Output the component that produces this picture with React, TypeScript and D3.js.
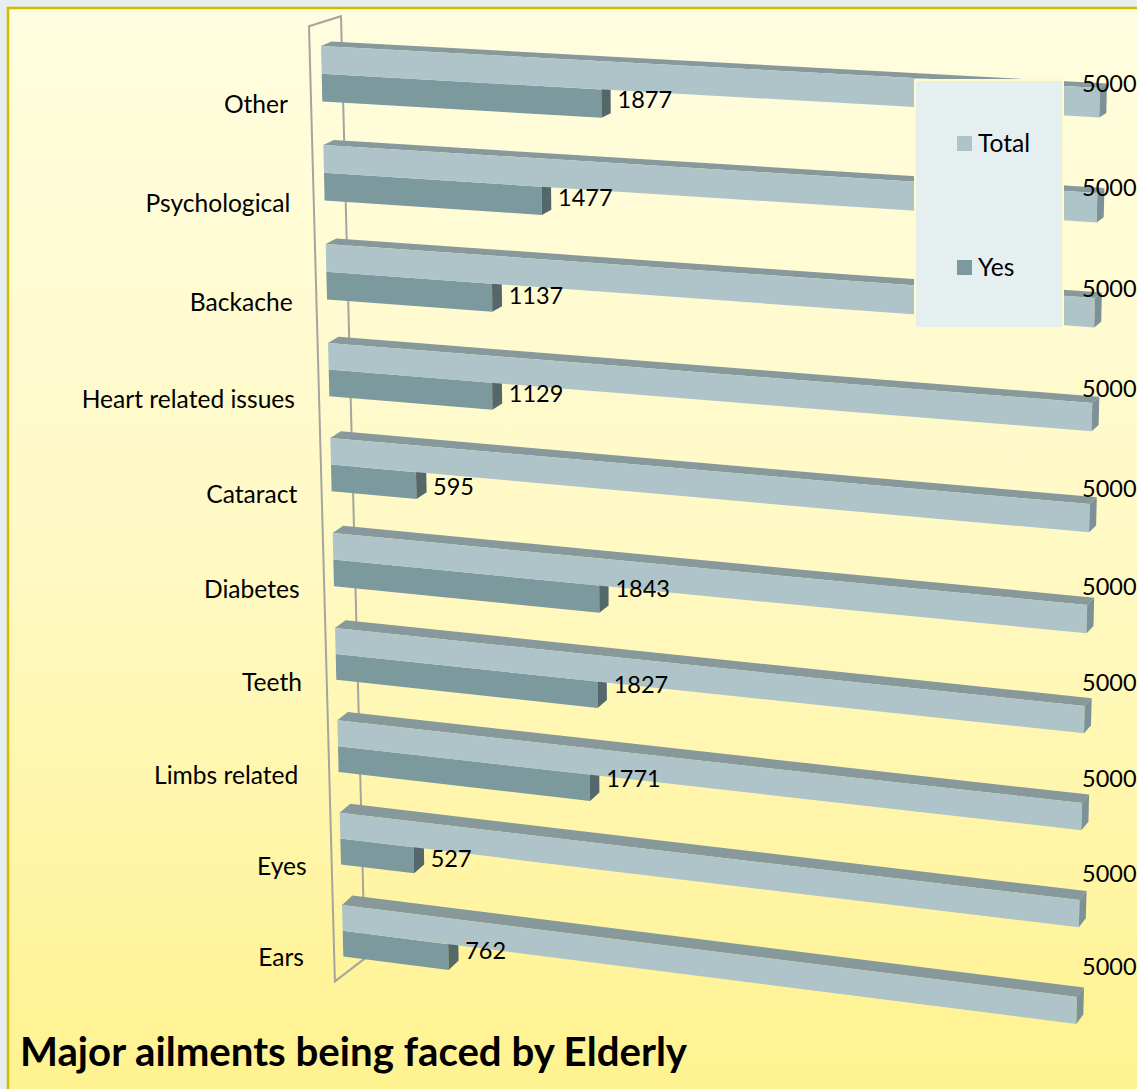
import React from 'react';
import * as d3 from 'd3';

const categories = ['Other', 'Psychological', 'Backache', 'Heart related issues', 'Cataract', 'Diabetes', 'Teeth', 'Limbs related', 'Eyes', 'Ears'];
const yesValues = [1877, 1477, 1137, 1129, 595, 1843, 1827, 1771, 527, 762];
const totalValues = [5000, 5000, 5000, 5000, 5000, 5000, 5000, 5000, 5000, 5000];
const legendNames = ['Total', 'Yes'];
const chartTitle = 'Major ailments being faced by Elderly';

const W = 1137;
const H = 1089;
const FONT = 'Lato, "Open Sans", sans-serif';

// bar thickness in row units
const BAR = 0.28;

// the chart is a fake 3D one, so rows are projected between a left and a right edge
const valueScale = d3.scaleLinear().domain([0, 5000]).range([0, 1]);
const persp = (t: number) => t / (t + 1.07 * (1 - t));
const xLeft = d3.scaleLinear().domain([0, 9]).range([321, 342]);
const xRight = d3.scaleLinear().domain([0, 9]).range([1100, 1077]);
const yLeft = d3.scaleLinear().domain([0, 3, 6, 9, 10]).range([46, 343, 628, 905, 997]);
const yRight = d3.scaleLinear().domain([0, 3, 6, 9, 10]).range([88, 403, 706, 997, 1093]);
const depthX = d3.scaleLinear().domain([0, 1]).range([10.5, 7]);
const depthY = d3.scaleLinear().domain([0, 9]).range([4.5, 9.5]);
const totalLabelLift = d3.scaleLinear().domain([0, 9]).range([19, 45]);
const nameDrop = d3.scaleLinear().domain([0, 7, 9]).range([3, 3, 1]);

// data labels in the original do not follow the projection exactly
const yesLabelNudge = [1, 2, 3, 2, 6, -5, -5, -4, 3, -1];
const totalLabelNudge = [0, 2, 1, -1, 1, 1, 0, 1, 2, 1];

const project = (value: number, v: number): [number, number] => {
  const t = persp(valueScale(value));
  return [
    d3.interpolateNumber(xLeft(v), xRight(v))(t),
    d3.interpolateNumber(yLeft(v), yRight(v))(t),
  ];
};

const back = (p: [number, number], value: number, row: number): [number, number] => [
  p[0] + depthX(persp(valueScale(value))),
  p[1] - depthY(row),
];

const poly = (pts: [number, number][]) => pts.map((p) => p.map((n) => n.toFixed(1)).join(',')).join(' ');

// a couple of labels sit a little further from the wall
const labelGap = (name: string) => (name === 'Limbs related' ? 39 : name === 'Ears' ? 38 : 33);

const Bars = ({ row }: { row: number }) => {
  const total = totalValues[row];
  const yes = yesValues[row];
  const tl = project(0, row);
  const tr = project(total, row);
  const tb = project(total, row + BAR);
  const ml = project(0, row + BAR);
  const yt = project(yes, row + BAR);
  const yb = project(yes, row + BAR * 2);
  const bl = project(0, row + BAR * 2);
  return (
    <g>
      <polygon points={poly([tl, tr, back(tr, total, row), back(tl, 0, row)])} fill="#87999b" />
      <polygon points={poly([ml, yt, yb, bl])} fill="#7c9a9d" />
      <polygon points={poly([yt, back(yt, yes, row), back(yb, yes, row), yb])} fill="#546769" />
      <polygon points={poly([tl, tr, tb, ml])} fill="#afc4c8" />
      <polygon points={poly([tr, back(tr, total, row), back(tb, total, row), tb])} fill="#7c9296" />
    </g>
  );
};

export default function App() {
  const wall: [number, number][] = [
    [xLeft(-0.2) - 11.5, yLeft(-0.2)],
    [xLeft(-0.2) + 20.5, yLeft(-0.2) - 10],
    [xLeft(9.83) + 21, yLeft(9.83) - 23],
    [xLeft(9.83) - 9, yLeft(9.83)],
  ];
  return (
    <svg width={W} height={H} style={{ position: 'absolute', left: 0, top: 0 }} fontFamily={FONT}>
      <defs>
        <linearGradient id="bg" x1="0" y1="0" x2="0" y2="1">
          <stop offset="0" stopColor="#fffde0" />
          <stop offset="0.5" stopColor="#fff9c4" />
          <stop offset="1" stopColor="#fff28f" />
        </linearGradient>
        <filter id="soft" x="-2%" y="-2%" width="104%" height="104%">
          <feGaussianBlur stdDeviation="0.6" />
        </filter>
      </defs>
      <rect width={W} height={H} fill="#e6eef0" />
      <rect x={8} y={8} width={W} height={H} fill="url(#bg)" stroke="#d4b900" strokeWidth={2.5} />

      <g filter="url(#soft)">
        <polygon points={poly(wall)} fill="none" stroke="#a5a5a0" strokeWidth={2} />
        {categories.map((name, i) => (
          <g key={name}>
            <Bars row={i} />
          </g>
        ))}
      </g>

      {categories.map((name, i) => {
        const yt = project(yesValues[i], i + BAR);
        const yb = project(yesValues[i], i + BAR * 2);
        const tt = project(totalValues[i], i);
        const tb = project(totalValues[i], i + BAR);
        return (
          <g key={name} fill="#000">
            <text x={xLeft(i) - labelGap(name)} y={yLeft(i + BAR * 2) + nameDrop(i)} dy="0.35em" textAnchor="end" fontSize={24.6}>{name}</text>
            <text x={back(yt, yesValues[i], i)[0] + 7} y={(yt[1] + yb[1]) / 2 - 5 + yesLabelNudge[i]} dy="0.35em" fontSize={23.5}>{yesValues[i]}</text>
            <text x={1082} y={(tt[1] + tb[1]) / 2 - totalLabelLift(i) + totalLabelNudge[i]} dy="0.35em" fontSize={23.5}>{totalValues[i]}</text>
          </g>
        );
      })}

      <rect x={915} y={80} width={148} height={248} fill="#e6eff0" stroke="#fffbc8" strokeWidth={2} />
      {legendNames.map((name, i) => (
        <g key={name}>
          <rect x={957} y={136 + i * 124} width={15} height={15} fill={i === 0 ? '#afc4c8' : '#7c9a9d'} />
          <text x={978} y={143 + i * 124} dy="0.35em" fontSize={24.6} fill="#000">{name}</text>
        </g>
      ))}

      <text x={20} y={1066} fontSize={40.2} fontWeight={700} fill="#000">{chartTitle}</text>
    </svg>
  );
}
